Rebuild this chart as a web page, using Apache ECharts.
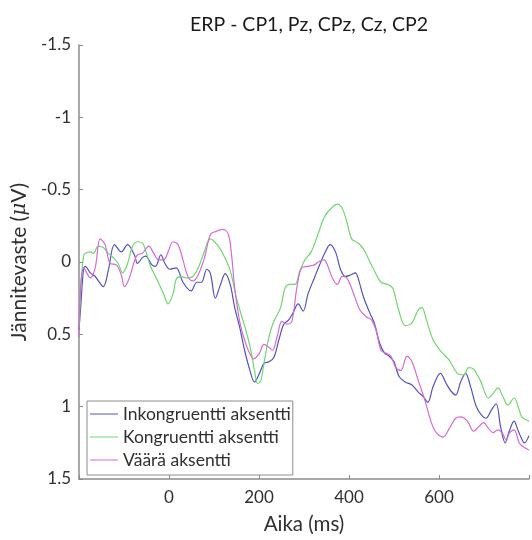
<!DOCTYPE html>
<html>
<head>
<meta charset="utf-8">
<script src="https://cdn.jsdelivr.net/npm/echarts@6/dist/echarts.min.js"></script>
<style>
  html, body { margin: 0; padding: 0; background: #fff; }
  #main { width: 532px; height: 540px; }
</style>
</head>
<body>
<div id="main"></div>
<script>
// ERP curves: [time (ms), amplitude (uV)]
const seriesNames = ["Inkongruentti aksentti", "Kongruentti aksentti", "Väärä aksentti"];
const seriesColors = ["#5252bd", "#6fd66f", "#d56ad5"];

const inkongruentti = [
  [-200, 0.47], [-196, 0.30], [-190, 0.05], [-186, 0.03], [-175, 0.075], [-164, 0.10],
  [-146, 0.17], [-135, 0.06], [-121, -0.12], [-106, -0.07], [-92, -0.12], [-77, -0.05],
  [-70, 0.01], [-59, -0.03], [-52, -0.04], [-38, 0.02], [-30, 0.03], [-18, -0.05],
  [-9, 0.01], [2, 0.05], [16, 0.04], [31, 0.14], [49, 0.20], [62, 0.14], [72, 0.14],
  [84, 0.05], [92, 0.08], [103, 0.25], [114, 0.16], [125, 0.08], [136, 0.155],
  [146, 0.315], [157, 0.45], [168, 0.61], [179, 0.74], [190, 0.83], [201, 0.77],
  [211, 0.70], [222, 0.69], [233, 0.66], [244, 0.54], [255, 0.43], [266, 0.40],
  [276, 0.35], [287, 0.29], [298, 0.34], [309, 0.22], [323, 0.11], [338, -0.005],
  [349, -0.08], [358, -0.12], [370, -0.07], [381, 0.05], [392, 0.10], [403, 0.09],
  [414, 0.075], [421, 0.12], [432, 0.24], [446, 0.35], [457, 0.43], [468, 0.56],
  [479, 0.63], [489, 0.65], [500, 0.69], [511, 0.79], [525, 0.83], [540, 0.85],
  [554, 0.90], [565, 0.93], [575, 0.97], [587, 0.86], [603, 0.77], [616, 0.84],
  [626, 0.89], [637, 0.92], [648, 0.83], [659, 0.77], [670, 0.86], [683, 1.0],
  [695, 1.06], [704, 1.08], [717, 1.02], [727, 0.98], [737, 1.14], [747, 1.25],
  [756, 1.17], [767, 1.10], [774, 1.15], [782, 1.21], [790, 1.25], [800, 1.2]
];

const kongruentti = [
  [-200, 0.45], [-196, 0.18], [-190, -0.04], [-186, -0.06], [-175, -0.07], [-168, -0.06],
  [-157, -0.11], [-146, -0.10], [-135, -0.06], [-124, -0.03], [-113, 0.01], [-103, 0.075],
  [-92, 0.01], [-81, -0.11], [-70, -0.14], [-59, -0.13], [-52, -0.08], [-41, 0.03],
  [-27, 0.12], [-12, 0.22], [-2, 0.29], [9, 0.22], [16, 0.12], [26, 0.10], [38, 0.11],
  [53, 0.10], [65, 0.04], [76, -0.05], [92, -0.16], [107, -0.12], [121, -0.05],
  [136, 0.06], [150, 0.25], [165, 0.41], [175, 0.52], [183, 0.63], [190, 0.75],
  [197, 0.84], [204, 0.82], [211, 0.70], [222, 0.52], [233, 0.41], [248, 0.315],
  [258, 0.18], [269, 0.155], [280, 0.155], [291, 0.06], [302, -0.015], [316, -0.07],
  [331, -0.19], [345, -0.31], [360, -0.37], [374, -0.40], [385, -0.37], [395, -0.28],
  [406, -0.16], [421, -0.13], [432, -0.09], [453, 0.04], [471, 0.14], [486, 0.155],
  [497, 0.18], [511, 0.34], [525, 0.44], [540, 0.42], [554, 0.33], [562, 0.315],
  [572, 0.40], [587, 0.54], [605, 0.62], [623, 0.68], [641, 0.77], [655, 0.78],
  [666, 0.73], [677, 0.74], [692, 0.82], [710, 0.94], [720, 0.91], [731, 0.87],
  [742, 0.93], [753, 0.99], [767, 0.94], [778, 1.02], [784, 1.07], [800, 1.1]
];

const vaara = [
  [-200, 0.52], [-196, 0.15], [-189, 0.04], [-182, 0.08], [-175, 0.11], [-164, 0.04],
  [-153, -0.16], [-142, -0.12], [-131, 0.01], [-117, 0.02], [-106, 0.09], [-99, 0.17],
  [-88, 0.11], [-77, -0.005], [-70, -0.05], [-59, -0.06], [-45, -0.11], [-34, -0.06],
  [-23, -0.015], [-12, -0.015], [-2, -0.07], [9, -0.14], [20, -0.12], [31, -0.015],
  [42, 0.10], [53, 0.13], [63, 0.10], [78, -0.02], [92, -0.19], [103, -0.21],
  [121, -0.225], [132, -0.19], [139, -0.05], [146, 0.18], [157, 0.41], [168, 0.54],
  [179, 0.63], [188, 0.67], [201, 0.63], [211, 0.57], [222, 0.59], [230, 0.61],
  [240, 0.52], [251, 0.41], [262, 0.43], [273, 0.41], [284, 0.18], [295, 0.04],
  [309, 0.03], [323, 0.02], [334, -0.005], [345, -0.015], [352, 0.02], [363, 0.11],
  [374, 0.155], [385, 0.10], [395, 0.11], [408, 0.20], [424, 0.33], [439, 0.38],
  [450, 0.40], [460, 0.47], [471, 0.61], [482, 0.63], [493, 0.65], [504, 0.73],
  [515, 0.75], [529, 0.65], [540, 0.69], [554, 0.82], [569, 0.96], [583, 1.11],
  [594, 1.18], [609, 1.21], [623, 1.15], [637, 1.08], [648, 1.07], [663, 1.10],
  [677, 1.17], [688, 1.14], [699, 1.11], [710, 1.15], [720, 1.18], [731, 1.16],
  [742, 1.19], [749, 1.23], [757, 1.18], [767, 1.16], [778, 1.25], [784, 1.27], [800, 1.3]
];

const xTickLabels = [0, 200, 400, 600];
const yTicks = [-1.5, -1, -0.5, 0, 0.5, 1, 1.5];

const font = "Lato";
const axisGray = "#8c8c8c";
const textDark = "#303030";

let myChart = echarts.init(document.getElementById("main"), null, { renderer: "canvas" });
let option = {
  backgroundColor: "#fff",
  animation: false,
  title: {
    text: "ERP - CP1, Pz, CPz, Cz, CP2",
    left: 309,
    top: 15,
    textAlign: "center",
    padding: 0,
    textStyle: { fontFamily: font, fontSize: 19.5, fontWeight: "normal", color: "#1a1a1a" }
  },
  grid: { left: 79, right: -9, top: 45, bottom: 57, containLabel: false },
  legend: {
    orient: "vertical",
    left: 87,
    top: 401,
    padding: [4, 2, 6, 3],
    icon: "rect",
    itemWidth: 28,
    itemHeight: 1,
    itemGap: 5,
    borderColor: axisGray,
    borderWidth: 1,
    backgroundColor: "#fff",
    textStyle: { fontFamily: font, fontSize: 17.5, color: textDark },
    data: seriesNames
  },
  xAxis: {
    type: "value",
    min: -200,
    max: 800,
    interval: 200,
    name: "Aika (ms)",
    nameLocation: "middle",
    nameGap: 35,
    nameTextStyle: { fontFamily: font, fontSize: 20.5, color: textDark },
    axisLine: { onZero: false, lineStyle: { color: axisGray, width: 1.5 } },
    axisTick: { inside: true, length: 4, lineStyle: { color: axisGray } },
    splitLine: { show: false },
    axisLabel: {
      margin: 10,
      fontFamily: font,
      fontSize: 17,
      color: textDark,
      formatter: v => (xTickLabels.indexOf(v) >= 0 ? String(v) : "")
    }
  },
  yAxis: {
    type: "value",
    inverse: true,
    min: yTicks[0],
    max: yTicks[yTicks.length - 1],
    interval: 0.5,
    name: "Jännitevaste ({mu|μ}V)",
    nameLocation: "middle",
    nameGap: 48,
    nameTextStyle: {
      fontFamily: font,
      fontSize: 21,
      color: textDark,
      rich: { mu: { fontFamily: "DejaVu Serif", fontStyle: "italic", fontSize: 20, color: textDark } }
    },
    axisLine: { show: true, onZero: false, lineStyle: { color: axisGray, width: 1.5 } },
    axisTick: { show: true, inside: true, length: 4, lineStyle: { color: axisGray } },
    splitLine: { show: false },
    axisLabel: { margin: 8, fontFamily: font, fontSize: 17, color: textDark }
  },
  series: [inkongruentti, kongruentti, vaara].map((d, i) => ({
    name: seriesNames[i],
    type: "line",
    data: d,
    symbol: "none",
    smooth: 0.35,
    clip: true,
    lineStyle: { color: seriesColors[i], width: 1.2 },
    itemStyle: { color: seriesColors[i] }
  }))
};

if (option && typeof option === "object") myChart.setOption(option);
window.addEventListener("resize", function () {
  myChart.resize();
});
</script>
</body>
</html>
